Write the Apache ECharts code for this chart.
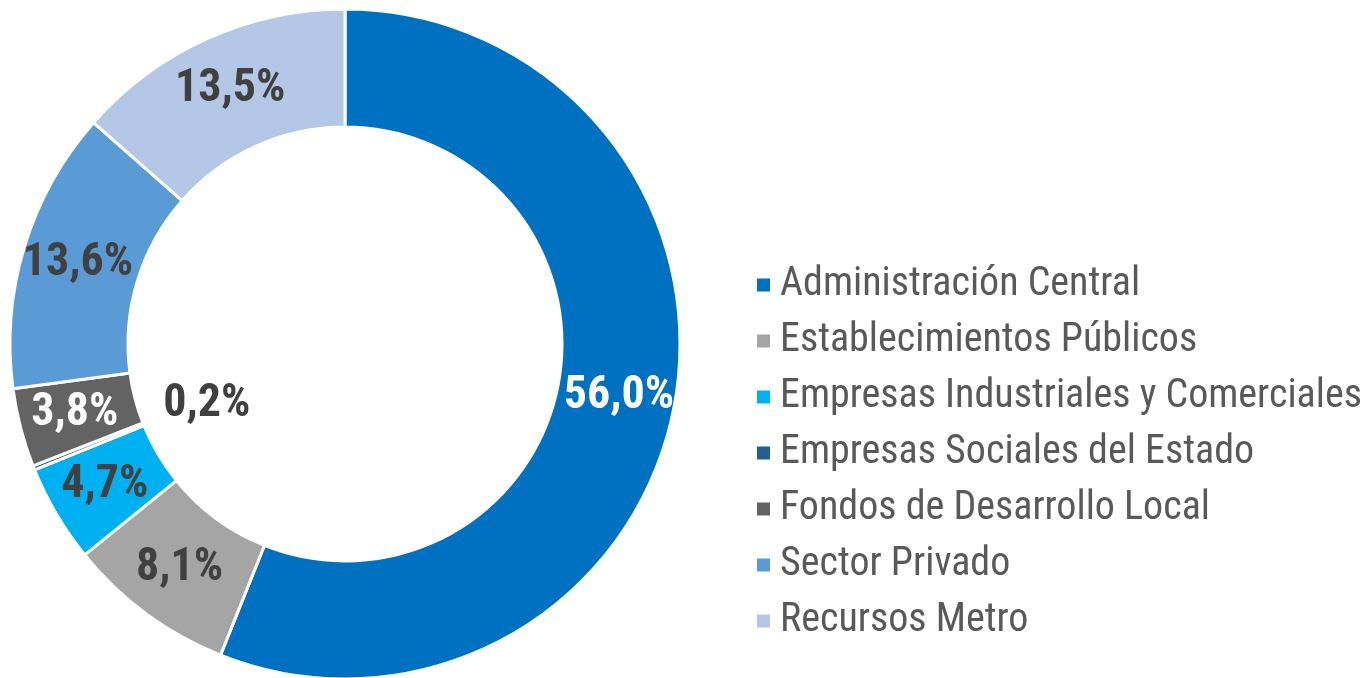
<!DOCTYPE html>
<html>
<head>
<meta charset="utf-8">
<script src="https://cdn.jsdelivr.net/npm/echarts@6/dist/echarts.min.js"></script>
<style>
  html, body { margin: 0; padding: 0; background: #fff; }
  #chart { width: 1364px; height: 678px; }
</style>
</head>
<body>
<div id="chart"></div>
<script>
var categories = [
  'Administración Central',
  'Establecimientos Públicos',
  'Empresas Industriales y Comerciales',
  'Empresas Sociales del Estado',
  'Fondos de Desarrollo Local',
  'Sector Privado',
  'Recursos Metro'
]
var values = [56.0, 8.1, 4.7, 0.2, 3.8, 13.6, 13.5]
var colors = ['#0070C0', '#A5A5A5', '#00B0F0', '#255E91', '#636363', '#5B9BD5', '#B4C7E7']
var labelColors = ['#ffffff', '#404040', '#404040', '#404040', '#ffffff', '#404040', '#404040']

var font = "'Roboto Condensed', 'Liberation Sans Narrow', 'Arial Narrow', sans-serif"

var chart = echarts.init(document.getElementById('chart'))
chart.setOption({
  animation: false,
  color: colors,
  legend: {
    orient: 'vertical',
    left: 750,
    top: 260,
    itemWidth: 15,
    itemHeight: 15,
    itemGap: 16,
    icon: 'rect',
    textStyle: {
      fontFamily: font,
      fontSize: 40,
      lineHeight: 40,
      color: '#595959',
      padding: [0, 0, 0, 4]
    },
    data: categories
  },
  series: [{
    type: 'pie',
    center: [345, 344],
    radius: [217, 335],
    startAngle: 90,
    clockwise: true,
    itemStyle: { borderColor: '#fff', borderWidth: 3 },
    label: {
      show: true,
      position: 'inside',
      fontFamily: font,
      fontSize: 46,
      fontWeight: 'bold',
      formatter: function (p) {
        return p.value.toFixed(1).replace('.', ',') + '%'
      }
    },
    labelLine: { show: false },
    labelLayout: function (p) {
      // the 0,2% label sits inside the hole
      if (p.dataIndex === 3) return { dx: 121, dy: -43 }
    },
    data: categories.map(function (c, i) {
      return { name: c, value: values[i], label: { color: labelColors[i] } }
    })
  }]
})
</script>
</body>
</html>
